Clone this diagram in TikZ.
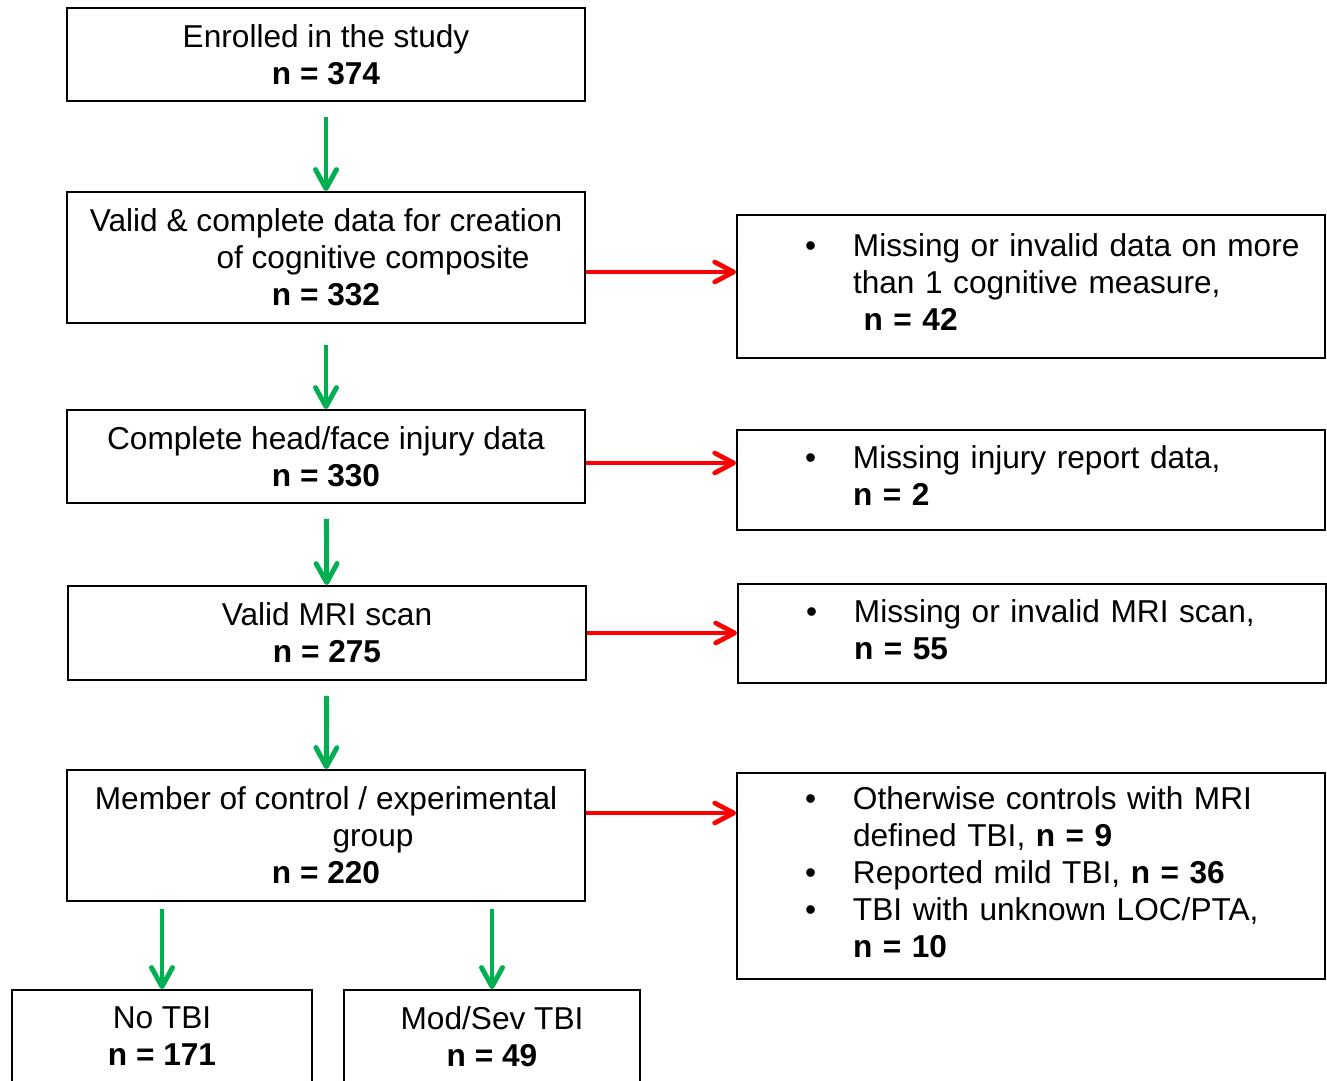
\documentclass[tikz,border=0pt]{standalone}
\usepackage{fontspec}
\setmainfont{Liberation Sans}
\usepackage{array}
\usepackage{tikz}
\usetikzlibrary{arrows.meta}
\definecolor{passgreen}{RGB}{0,176,80}
\definecolor{dropred}{RGB}{255,0,0}
\newcolumntype{E}{@{\hspace{1.36cm}}p{0.96cm}@{}l@{}}

\begin{document}
\begin{tikzpicture}[
        every node/.style={font=\fontsize{18}{21}\selectfont},
        box/.style={draw, line width=1.1pt, minimum width=10.36cm, minimum height=1.86cm, align=center, inner sep=0pt},
        excl/.style={draw, line width=1.1pt, text width=11.76cm, align=left, inner sep=0pt},
        pass/.style={draw=passgreen, line width=2.8pt, shorten <=0.3cm, -{Straight Barb[round, length=0.38cm, width=0.42cm]}},
        drop/.style={draw=dropred, line width=2.7pt, -{Straight Barb[round, length=0.38cm, width=0.4cm]}}
    ]
                    \useasboundingbox (0, 0) rectangle (26.54, -21.6);

                    \node [box] (enrolled) at (6.52, -1.09) {Enrolled in the study\\ \textbf{n = 374}};
                    \node [box, minimum height=2.62cm] (composite) at (6.52, -5.15) {Valid \& complete data for creation\\ \hspace*{1.88cm}of cognitive composite\\ \textbf{n = 332}};
                    \node [box] (injury) at (6.52, -9.13) {Complete head/face injury data\\ \textbf{n = 330}};
                    \node [box, minimum height=1.88cm] (mri) at (6.54, -12.66) {Valid MRI scan\\ \textbf{n = 275}};
                    \node [box, minimum height=2.62cm] (group) at (6.52, -16.71) {Member of control / experimental\\ \hspace*{1.88cm}group\\ \textbf{n = 220}};
                    \node [box, minimum width=6cm] (notbi) at (3.24, -20.73) {No TBI\\ \textbf{n = 171}};
                    \node [box, minimum width=5.92cm] (modsev) at (9.84, -20.73) {Mod/Sev TBI\\ \textbf{n = 49}};

                    \node [excl, minimum height=2.86cm] (exclcog) at (20.62, -5.73) {\begin{tabular}{E}\textbullet & Missing or invalid data on more\\ & than 1 cognitive measure,\\ & \ \textbf{n = 42}\end{tabular}};
                    \node [excl, minimum height=2cm] (exclinj) at (20.62, -9.6) {\begin{tabular}{E}\textbullet & Missing injury report data,\\ & \textbf{n = 2}\end{tabular}};
                    \node [excl, minimum height=1.98cm] (exclmri) at (20.64, -12.67) {\begin{tabular}{E}\textbullet & Missing or invalid MRI scan,\\ & \textbf{n = 55}\end{tabular}};
                    \node [excl, minimum height=4.12cm] (exclgroup) at (20.62, -17.52) {\begin{tabular}{E}\textbullet & Otherwise controls with MRI\\ & defined TBI, \textbf{n = 9}\\ \textbullet & Reported mild TBI, \textbf{n = 36}\\ \textbullet & TBI with unknown LOC/PTA,\\ & \textbf{n = 10}\end{tabular}};

                    \coordinate (outcog) at ([yshift=-0.29cm]composite.east);
                    \coordinate (outinj) at ([yshift=-0.13cm]injury.east);
                    \coordinate (outmri) at (mri.east);
                    \coordinate (outgroup) at ([yshift=0.45cm]group.east);

                    \draw [pass] (enrolled) -- (composite);
                    \draw [pass, shorten <=0.42cm] (composite) -- (injury);
                    \draw [pass] (injury) -- (mri);
                    \draw [pass] (mri) -- (group);
                    \draw [pass, shorten <=0.14cm] (notbi.north |- group.south) -- (notbi.north);
                    \draw [pass, shorten <=0.14cm] (modsev.north |- group.south) -- (modsev.north);

                    \draw [drop] (outcog) -- (outcog -| exclcog.west);
                    \draw [drop] (outinj) -- (outinj -| exclinj.west);
                    \draw [drop] (outmri) -- (outmri -| exclmri.west);
                    \draw [drop] (outgroup) -- (outgroup -| exclgroup.west);
                \end{tikzpicture}
\end{document}
